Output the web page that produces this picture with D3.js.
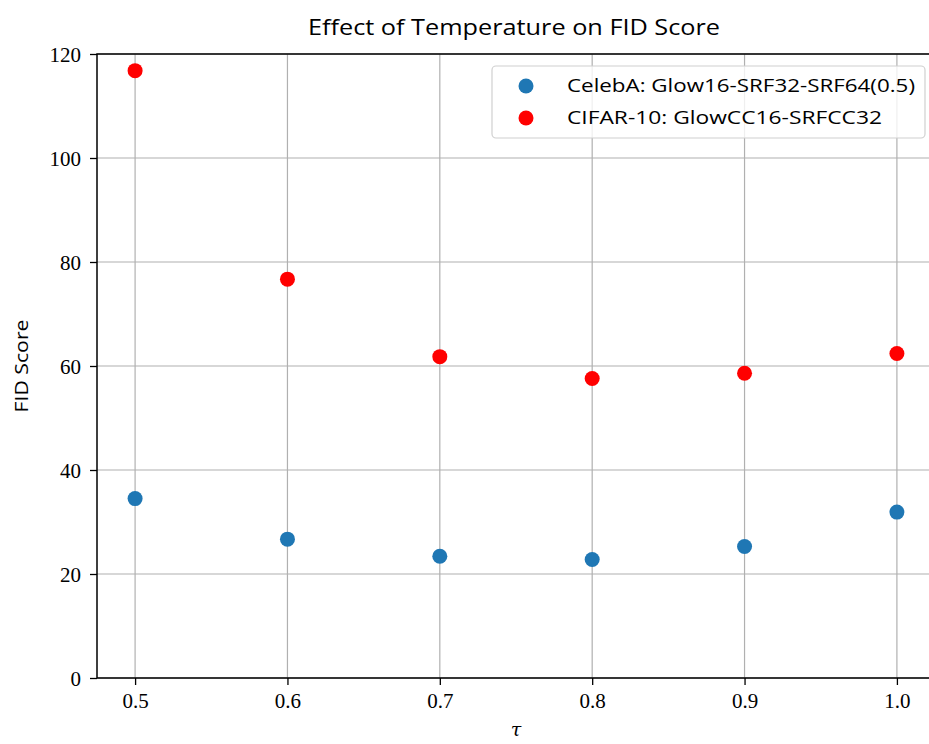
<!DOCTYPE html>
<html>
<head>
<meta charset="utf-8">
<script src="https://cdn.jsdelivr.net/npm/d3@7"></script>
<style>
  body { margin: 0; background: #fff; }
  svg { display: block; }
</style>
</head>
<body>
<div id="myDiv"></div>
<script>
// data
var temps = [0.5, 0.6, 0.7, 0.8, 0.9, 1.0];
var celebaFid = [34.5, 26.7, 23.4, 22.8, 25.3, 31.9];
var cifarFid = [116.8, 76.7, 61.8, 57.6, 58.6, 62.4];
var seriesNames = ["CelebA: Glow16-SRF32-SRF64(0.5)", "CIFAR-10: GlowCC16-SRFCC32"];
var seriesColors = ["#1f77b4", "#ff0000"];
var xTicks = [0.5, 0.6, 0.7, 0.8, 0.9, 1.0];
var yTicks = [0, 20, 40, 60, 80, 100, 120];

//Width and height
var w = 929;
var h = 744;
var plotLeft = 97, plotTop = 54, plotRight = 935, plotBottom = 678;

var svg = d3.select("#myDiv")
    .append("svg")
    .attr("width", w)
    .attr("height", h);

var x = d3.scaleLinear().domain([0.475, 1.025]).range([plotLeft, plotRight]);
var y = d3.scaleLinear().domain([0, 120]).range([plotBottom, plotTop]);

//grid lines
svg.append("g")
  .selectAll("line")
  .data(xTicks)
  .enter()
  .append("line")
  .attr("x1", function(d) { return x(d); })
  .attr("x2", function(d) { return x(d); })
  .attr("y1", plotTop)
  .attr("y2", plotBottom)
  .attr("stroke", "#b0b0b0")
  .attr("stroke-width", 1.2);

svg.append("g")
  .selectAll("line")
  .data(yTicks)
  .enter()
  .append("line")
  .attr("x1", plotLeft)
  .attr("x2", plotRight)
  .attr("y1", function(d) { return y(d); })
  .attr("y2", function(d) { return y(d); })
  .attr("stroke", "#b0b0b0")
  .attr("stroke-width", 1.2);

//axes
var xAxis = d3.axisBottom(x)
  .tickValues(xTicks)
  .tickFormat(d3.format(".1f"))
  .tickSize(7)
  .tickPadding(8);
var yAxis = d3.axisLeft(y)
  .tickValues(yTicks)
  .tickFormat(d3.format("d"))
  .tickSize(7)
  .tickPadding(9);

var gx = svg.append("g")
  .attr("transform", "translate(0," + plotBottom + ")")
  .call(xAxis);
var gy = svg.append("g")
  .attr("transform", "translate(" + plotLeft + ",0)")
  .call(yAxis);

[gx, gy].forEach(function(g) {
  g.select(".domain").remove();
  g.selectAll(".tick line").attr("stroke", "#000").attr("stroke-width", 1.3);
  g.selectAll(".tick text")
    .attr("fill", "#000")
    .style("font-family", "'Liberation Serif', 'DejaVu Serif', serif")
    .style("font-size", "21px");
});
gy.selectAll(".tick text").attr("dy", "0.34em");

//spines (left, top, bottom)
svg.append("path")
  .attr("d", "M" + plotRight + "," + plotTop + "H" + plotLeft + "V" + plotBottom + "H" + plotRight)
  .attr("fill", "none")
  .attr("stroke", "#000")
  .attr("stroke-width", 1.5);

//points
var series = [celebaFid, cifarFid];
series.forEach(function(vals, s) {
  svg.append("g")
    .selectAll("circle")
    .data(vals)
    .enter()
    .append("circle")
    .attr("cx", function(d, i) { return x(temps[i]); })
    .attr("cy", function(d) { return y(d); })
    .attr("r", 7.5)
    .attr("fill", seriesColors[s]);
});

//title and labels
svg.append("text")
  .attr("x", 514)
  .attr("y", 35)
  .attr("text-anchor", "middle")
  .attr("textLength", 412)
  .attr("lengthAdjust", "spacingAndGlyphs")
  .style("font-family", "'Open Sans', 'DejaVu Sans', sans-serif")
  .style("font-size", "21px")
  .text("Effect of Temperature on FID Score");

svg.append("text")
  .attr("transform", "translate(28,366) rotate(-90)")
  .attr("text-anchor", "middle")
  .attr("textLength", 93)
  .attr("lengthAdjust", "spacingAndGlyphs")
  .style("font-family", "'Open Sans', 'DejaVu Sans', sans-serif")
  .style("font-size", "18px")
  .text("FID Score");

svg.append("text")
  .attr("x", 516)
  .attr("y", 736)
  .attr("text-anchor", "middle")
  .style("font-family", "'DejaVu Serif', serif")
  .style("font-style", "italic")
  .style("font-size", "19px")
  .text("\u03c4");

//legend
var lg = svg.append("g");
lg.append("rect")
  .attr("x", 492)
  .attr("y", 66)
  .attr("width", 433)
  .attr("height", 72)
  .attr("rx", 4)
  .attr("fill", "#fff")
  .attr("fill-opacity", 0.8)
  .attr("stroke", "#d0d0d0")
  .attr("stroke-width", 1.2);

var textLens = [348, 315];
seriesNames.forEach(function(name, i) {
  var cy = 86 + i * 32;
  lg.append("circle")
    .attr("cx", 526)
    .attr("cy", cy)
    .attr("r", 7.5)
    .attr("fill", seriesColors[i]);
  lg.append("text")
    .attr("x", 567)
    .attr("y", cy + 6)
    .attr("textLength", textLens[i])
    .attr("lengthAdjust", "spacingAndGlyphs")
    .style("font-family", "'Open Sans', 'DejaVu Sans', sans-serif")
    .style("font-size", "18px")
    .text(name);
});
</script>
</body>
</html>
